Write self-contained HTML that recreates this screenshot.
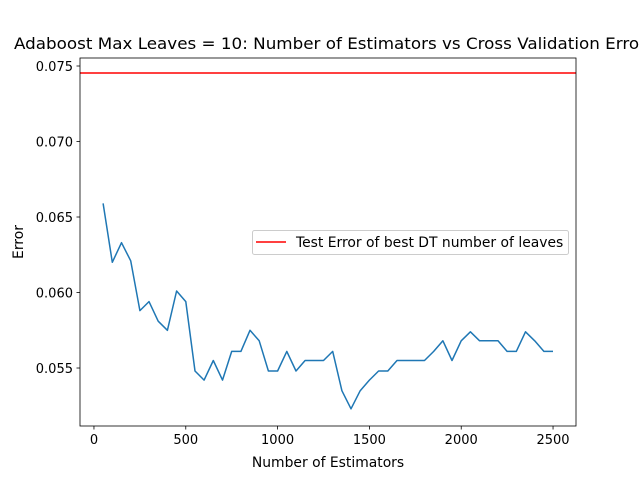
<!DOCTYPE html>
<html><head><meta charset="utf-8"><style>
body{margin:0;background:#fff;}
svg{display:block;font-family:"DejaVu Sans","Liberation Sans",sans-serif;}
</style></head><body>
<svg id="chart" width="640" height="480"></svg>
<script>
const estimators=[];for(let i=1;i<=50;i++)estimators.push(i*50);
const cvError=[0.0659,0.0620,0.0633,0.0621,0.0588,0.0594,0.0581,0.0575,0.0601,0.0594,
0.0548,0.0542,0.0555,0.0542,0.0561,0.0561,0.0575,0.0568,0.0548,0.0548,
0.0561,0.0548,0.0555,0.0555,0.0555,0.0561,0.0535,0.0523,0.0535,0.0542,
0.0548,0.0548,0.0555,0.0555,0.0555,0.0555,0.0561,0.0568,0.0555,0.0568,
0.0574,0.0568,0.0568,0.0568,0.0561,0.0561,0.0574,0.0568,0.0561,0.0561];
const testError=0.07454;
const xTicks=[0,500,1000,1500,2000,2500];
const yTicks=[0.055,0.060,0.065,0.070,0.075];
const L=80,R=576,T=58,B=426;
const xMin=-76,xMax=2625,yMin=0.05116,yMax=0.07553;
const xs=v=>L+(v-xMin)/(xMax-xMin)*(R-L);
const ys=v=>B-(v-yMin)/(yMax-yMin)*(B-T);
const svg=document.getElementById('chart');const NS='http://www.w3.org/2000/svg';
function mk(t,a,p){const e=document.createElementNS(NS,t);for(const k in a)e.setAttribute(k,a[k]);(p||svg).appendChild(e);return e;}
let e;
e=mk('text',{x:14,y:49,'font-size':16,textLength:632,lengthAdjust:'spacingAndGlyphs'});e.textContent='Adaboost Max Leaves = 10: Number of Estimators vs Cross Validation Error';


const pts=estimators.map((x,i)=>xs(x).toFixed(1)+','+ys(cvError[i]).toFixed(1)).join(' ');
e=mk('polyline',{points:pts,fill:'none',stroke:'#1f77b4','stroke-width':1.5,'stroke-linejoin':'round'});


e=mk('line',{x1:L,x2:R,y1:ys(testError),y2:ys(testError),stroke:'#ff0000','stroke-width':1.5});


mk('rect',{x:L,y:T,width:R-L,height:B-T,fill:'none',stroke:'#000','stroke-width':0.8});
xTicks.forEach(v=>{const x=xs(v);mk('line',{x1:x,x2:x,y1:B,y2:B+3.5,stroke:'#000','stroke-width':0.8});
e=mk('text',{x:x,y:B+18,'text-anchor':'middle','font-size':13});e.textContent=v;

});
yTicks.forEach(v=>{const y=ys(v);mk('line',{x1:L-3.5,x2:L,y1:y,y2:y,stroke:'#000','stroke-width':0.8});
e=mk('text',{x:L-7,y:y+5,'text-anchor':'end','font-size':13});e.textContent=v.toFixed(3);

});
e=mk('text',{x:328,y:467,'text-anchor':'middle','font-size':13.9});e.textContent='Number of Estimators';


e=mk('text',{x:23,y:242,'text-anchor':'middle','font-size':13.9,transform:'rotate(-90 23 242)'});e.textContent='Error';


const g=mk('g',{});


mk('rect',{x:252.5,y:230.5,width:316,height:24,rx:2,fill:'#fff',stroke:'#ccc','stroke-width':1},g);
mk('line',{x1:256,x2:286,y1:242,y2:242,stroke:'#ff0000','stroke-width':1.5},g);
e=mk('text',{x:296,y:247,'font-size':13.9},g);e.textContent='Test Error of best DT number of leaves';


</script>
</body></html>
